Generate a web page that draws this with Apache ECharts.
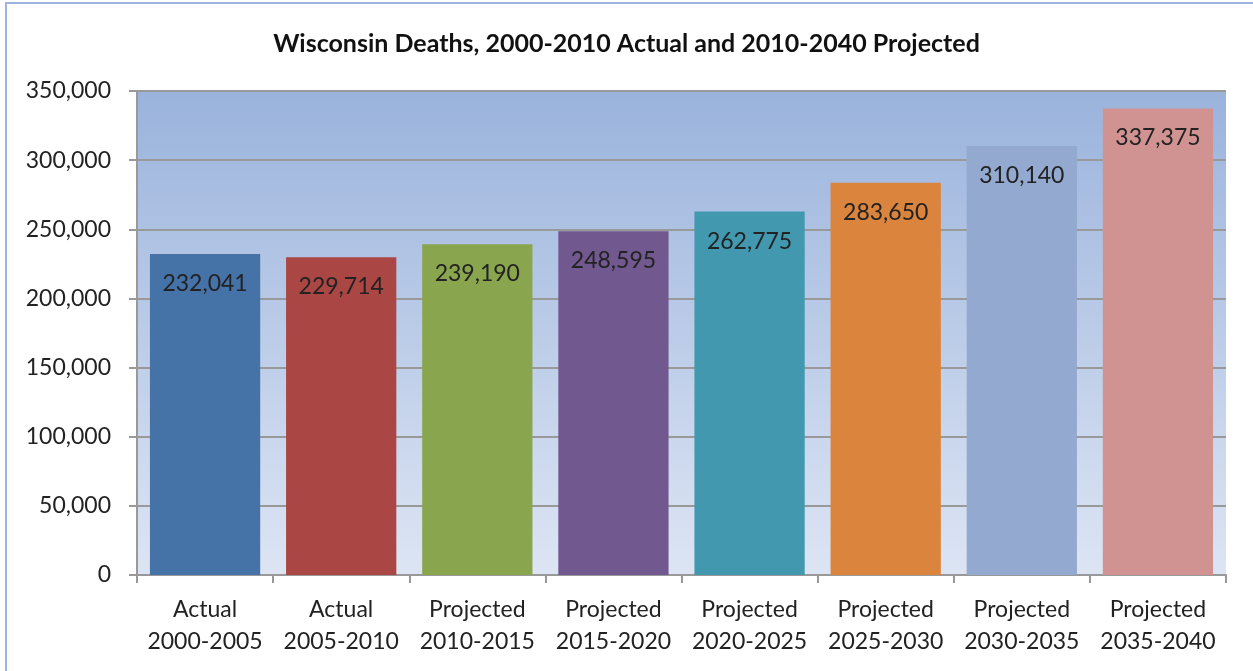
<!DOCTYPE html>
<html>
<head>
<meta charset="utf-8">
<script src="https://cdn.jsdelivr.net/npm/echarts@6/dist/echarts.min.js"></script>
<style>
html, body { margin: 0; padding: 0; background: #fff; }
#frame {
    position: absolute; left: 5px; top: 2px; width: 1260px; height: 680px;
    border: 2px solid #9db5de; box-sizing: border-box;
}
#chart { position: absolute; left: 0; top: 0; width: 1253px; height: 671px; }
</style>
</head>
<body>
<div id="frame"></div>
<div id="chart"></div>
<script>
// 数据
const categories = ['Actual\n2000-2005', 'Actual\n2005-2010', 'Projected\n2010-2015', 'Projected\n2015-2020',
    'Projected\n2020-2025', 'Projected\n2025-2030', 'Projected\n2030-2035', 'Projected\n2035-2040']
const deaths = [232041, 229714, 239190, 248595, 262775, 283650, 310140, 337375]
const barColors = ['#4572A7', '#AA4643', '#89A54E', '#71588F', '#4198AF', '#DB843D', '#93A9CF', '#D19392']

const font = 'Lato, "Open Sans", sans-serif'
const fmt = v => v.toLocaleString('en-US')

const myCharts = echarts.init(document.getElementById('chart'))

const option = {
    animation: false,
    title: {
        text: 'Wisconsin Deaths, 2000-2010 Actual and 2010-2040 Projected',
        left: 'center',
        top: 26,
        textStyle: { fontFamily: font, fontWeight: 'bold', fontSize: 25, color: '#111' }
    },
    grid: { left: 137, right: 27, top: 91, bottom: 96 },
    xAxis: {
        type: 'category',
        data: categories,
        axisLine: { lineStyle: { color: '#999', width: 2 } },
        axisTick: { show: true, length: 8, lineStyle: { color: '#999', width: 2 } },
        axisLabel: { interval: 0, fontFamily: font, fontSize: 23, color: '#222', lineHeight: 32, margin: 19 }
    },
    yAxis: {
        type: 'value',
        min: 0,
        max: 350000,
        interval: 50000,
        axisLine: { show: true, lineStyle: { color: '#999', width: 2 } },
        axisTick: { show: true, length: 8, lineStyle: { color: '#999', width: 2 } },
        axisLabel: { fontFamily: font, fontSize: 23, color: '#222', margin: 26, formatter: fmt },
        splitLine: { lineStyle: { color: '#999', width: 2 } },
        splitArea: { show: false }
    },
    series: [{
        type: 'bar',
        data: deaths.map((v, i) => ({ value: v, itemStyle: { color: barColors[i] } })),
        barCategoryGap: '19%',
        label: {
            show: true,
            position: 'insideTop',
            distance: 18,
            fontFamily: font,
            fontSize: 23,
            color: '#222',
            formatter: p => fmt(p.value)
        }
    }]
}

myCharts.setOption(option)

// 绘图区渐变背景
const rect = myCharts.getModel().getComponent('grid').coordinateSystem.getRect()
myCharts.setOption({
    graphic: [{
        type: 'rect',
        z: -1,
        silent: true,
        shape: { x: rect.x, y: rect.y, width: rect.width, height: rect.height },
        style: {
            fill: new echarts.graphic.LinearGradient(0, 0, 0, 1, [
                { offset: 0, color: '#9ab3dc' },
                { offset: 1, color: '#dde5f4' }
            ])
        }
    }]
})
</script>
</body>
</html>
